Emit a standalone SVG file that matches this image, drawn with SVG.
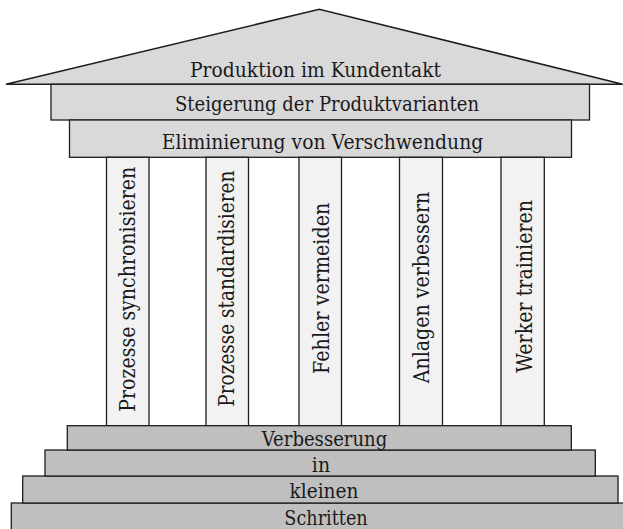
<svg xmlns="http://www.w3.org/2000/svg" width="623" height="529" viewBox="0 0 623 529">
  <style>
    .roof { fill: #d9d9d9; stroke: #1e1e1e; stroke-width: 1.6; stroke-linejoin: miter; }
    .beam { fill: #d9d9d9; stroke: #1e1e1e; stroke-width: 1.3; }
    .pillar { fill: #f2f2f2; stroke: #1e1e1e; stroke-width: 1.3; }
    .step { fill: #bfbfbf; stroke: #1e1e1e; stroke-width: 1.3; }
    .h, .v { font-family: "DejaVu Serif", "Liberation Serif", serif; fill: #1a1a1a; }
    .h { font-size: 20px; text-anchor: middle; }
    .v { font-size: 21.5px; text-anchor: middle; }
  </style>
  <rect width="623" height="529" fill="#ffffff"/>

  <g id="roof">
    <polygon class="roof" points="6,84.3 319.3,9.3 622.7,84.3"/>
    <text class="h" x="315.5" y="76.7" textLength="251" lengthAdjust="spacingAndGlyphs">Produktion im Kundentakt</text>
  </g>

  <g id="beam-steigerung">
    <rect class="beam" x="51" y="84.3" width="538.5" height="35.7"/>
    <text class="h" x="327" y="111" textLength="304" lengthAdjust="spacingAndGlyphs">Steigerung der Produktvarianten</text>
  </g>

  <g id="beam-eliminierung">
    <rect class="beam" x="69.5" y="120" width="502" height="37.3"/>
    <text class="h" x="322.5" y="149" textLength="321.6" lengthAdjust="spacingAndGlyphs">Eliminierung von Verschwendung</text>
  </g>

  <g id="pillar-1">
    <rect class="pillar" x="106.5" y="157.3" width="42.5" height="268.4"/>
    <text class="v" transform="translate(135,289.3) rotate(-90)" textLength="245" lengthAdjust="spacingAndGlyphs">Prozesse synchronisieren</text>
  </g>
  <g id="pillar-2">
    <rect class="pillar" x="206" y="157.3" width="42.5" height="268.4"/>
    <text class="v" transform="translate(233.5,288.7) rotate(-90)" textLength="236" lengthAdjust="spacingAndGlyphs">Prozesse standardisieren</text>
  </g>
  <g id="pillar-3">
    <rect class="pillar" x="299" y="157.3" width="42.5" height="268.4"/>
    <text class="v" transform="translate(329,288.3) rotate(-90)" textLength="171.3" lengthAdjust="spacingAndGlyphs">Fehler vermeiden</text>
  </g>
  <g id="pillar-4">
    <rect class="pillar" x="399.5" y="157.3" width="43" height="268.4"/>
    <text class="v" transform="translate(429,287.5) rotate(-90)" textLength="191.7" lengthAdjust="spacingAndGlyphs">Anlagen verbessern</text>
  </g>
  <g id="pillar-5">
    <rect class="pillar" x="501" y="157.3" width="43.3" height="268.4"/>
    <text class="v" transform="translate(532,286.3) rotate(-90)" textLength="172.7" lengthAdjust="spacingAndGlyphs">Werker trainieren</text>
  </g>

  <g id="step-4">
    <rect class="step" x="11.3" y="503" width="640" height="40"/>
    <text class="h" x="326" y="524.5" textLength="83.4" lengthAdjust="spacingAndGlyphs">Schritten</text>
  </g>
  <g id="step-3">
    <rect class="step" x="22.7" y="476" width="595.3" height="27"/>
    <text class="h" x="324" y="497.7" textLength="69" lengthAdjust="spacingAndGlyphs">kleinen</text>
  </g>
  <g id="step-2">
    <rect class="step" x="45" y="450" width="550.3" height="26"/>
    <text class="h" x="321" y="472.3" textLength="18.3" lengthAdjust="spacingAndGlyphs">in</text>
  </g>
  <g id="step-1">
    <rect class="step" x="67.3" y="425.7" width="504" height="24.3"/>
    <text class="h" x="324.5" y="445.7" textLength="125.6" lengthAdjust="spacingAndGlyphs">Verbesserung</text>
  </g>
</svg>
